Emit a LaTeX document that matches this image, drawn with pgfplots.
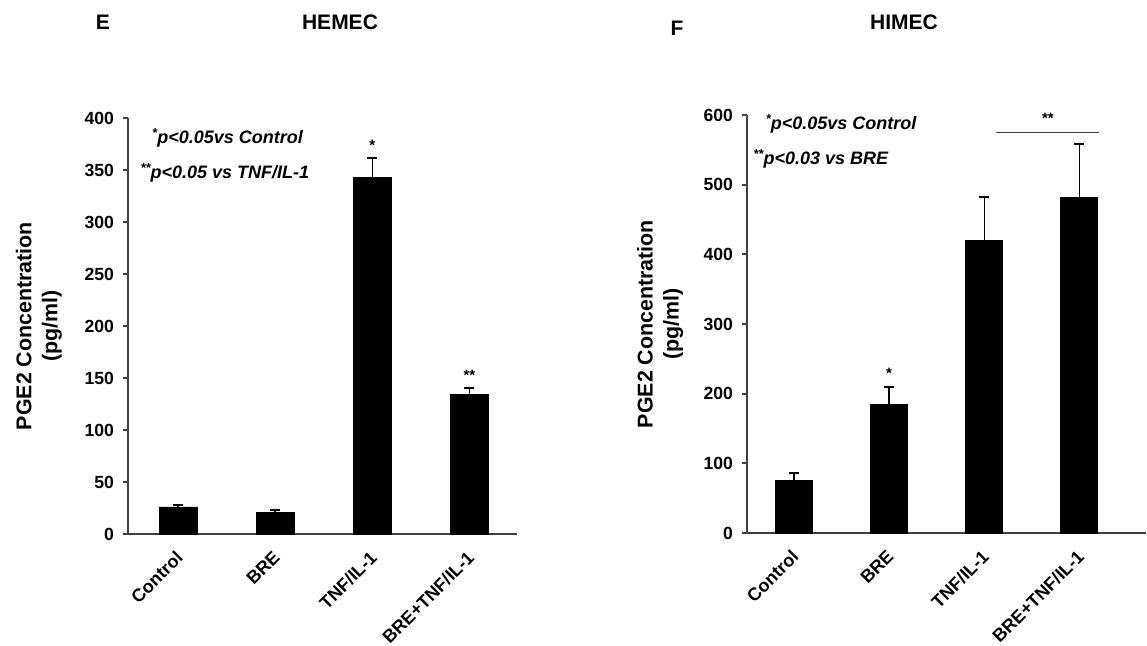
\documentclass[border=0pt]{standalone}
\usepackage{pgfplots}
\pgfplotsset{compat=1.18}
\usepackage{fontspec}
\setmainfont{Liberation Sans}
\newcommand{\sst}{\raisebox{0.35em}{\fontsize{6.5}{6.5}\selectfont *}}
\begin{document}
\begin{tikzpicture}[x=1pt,y=1pt]
\useasboundingbox (0,0) rectangle (573.5,323);
\pgfplotsset{
  myax/.style={
    scale only axis, anchor=south west,
    axis lines*=left,
    axis line style={black!75, line width=1pt},
    ymin=0,
    xtick={0,1,2,3},
    xticklabels={Control,BRE,TNF/IL-1,BRE+TNF/IL-1},
    xtick style={draw=none},
    ytick style={black!75, line width=1pt},
    tick align=outside, major tick length=2.5pt,
    /pgf/number format/assume math mode=true,
    yticklabel style={font=\fontsize{8.8}{10}\selectfont\bfseries, xshift=-1pt},
    xticklabel style={font=\fontsize{9}{10}\selectfont\bfseries, rotate=45, anchor=east, inner sep=1pt, yshift=-6pt, xshift=-3.9pt},
    ylabel={PGE2 Concentration\\(pg/ml)},
    ylabel style={align=center, font=\fontsize{10.7}{13}\selectfont\bfseries, anchor=center},
    clip=false,
  },
  mybar/.style={ybar, fill=black, draw=black, bar shift=0pt,
    error bars/y dir=plus, error bars/y explicit,
    error bars/error bar style={line width=0.7pt, black},
    error bars/error mark options={line width=1pt, mark size=2.5pt, black, rotate=90}},
}
% Titles
\node[font=\fontsize{10.5}{12}\selectfont\bfseries] at (51.5,312) {E};
\node[font=\fontsize{10.5}{12}\selectfont\bfseries] at (170,312) {HEMEC};
\node[font=\fontsize{10.5}{12}\selectfont\bfseries] at (338.5,309) {F};
\node[font=\fontsize{10.5}{12}\selectfont\bfseries] at (452,312) {HIMEC};

% Panel E
\begin{axis}[myax, at={(64pt,56pt)}, width=194.5pt, height=208pt,
  xmin=-0.515, xmax=3.49, ymax=400, ytick={0,50,...,400},
  ylabel style={at={(axis description cs:-0.229,0.5)}}]
\addplot[mybar, bar width=19pt] coordinates {
  (0,26) +- (0,1.5)
  (1,21) +- (0,2)
  (2,343) +- (0,19)
  (3,134) +- (0,6)
};
\node[font=\fontsize{7.5}{7.5}\selectfont\bfseries, anchor=south] at (axis cs:2,362) {*};
\node[font=\fontsize{7.5}{7.5}\selectfont\bfseries, anchor=south] at (axis cs:3,141) {**};
\node[font=\fontsize{9}{10}\selectfont\bfseries\itshape, anchor=west, inner sep=0pt] at (axis cs:-0.27,381) {\sst p<0.05vs Control};
\node[font=\fontsize{9}{10}\selectfont\bfseries\itshape, anchor=west, inner sep=0pt] at (axis cs:-0.39,347) {\sst\sst p<0.05 vs TNF/IL-1};
\end{axis}

% Panel F
\begin{axis}[myax, at={(373.5pt,56.5pt)}, width=199.5pt, height=209pt,
  xmin=-0.493, xmax=3.70, ymax=600, ytick={0,100,...,600},
  ylabel style={at={(axis description cs:-0.2175,0.5)}}]
\addplot[mybar, bar width=18.5pt] coordinates {
  (0,76) +- (0,10)
  (1,184) +- (0,26)
  (2,420) +- (0,63)
  (3,482) +- (0,76)
};
\addplot[black!75, line width=0.7pt] coordinates {(2.12,575) (3.21,575)};
\node[font=\fontsize{7.5}{7.5}\selectfont\bfseries, anchor=south] at (axis cs:1,211) {*};
\node[font=\fontsize{7.5}{7.5}\selectfont\bfseries, anchor=south] at (axis cs:2.67,577) {**};
\node[font=\fontsize{9}{10}\selectfont\bfseries\itshape, anchor=west, inner sep=0pt] at (axis cs:-0.30,587) {\sst p<0.05vs Control};
\node[font=\fontsize{9}{10}\selectfont\bfseries\itshape, anchor=west, inner sep=0pt] at (axis cs:-0.43,537) {\sst\sst p<0.03 vs BRE};
\end{axis}
\end{tikzpicture}
\end{document}
